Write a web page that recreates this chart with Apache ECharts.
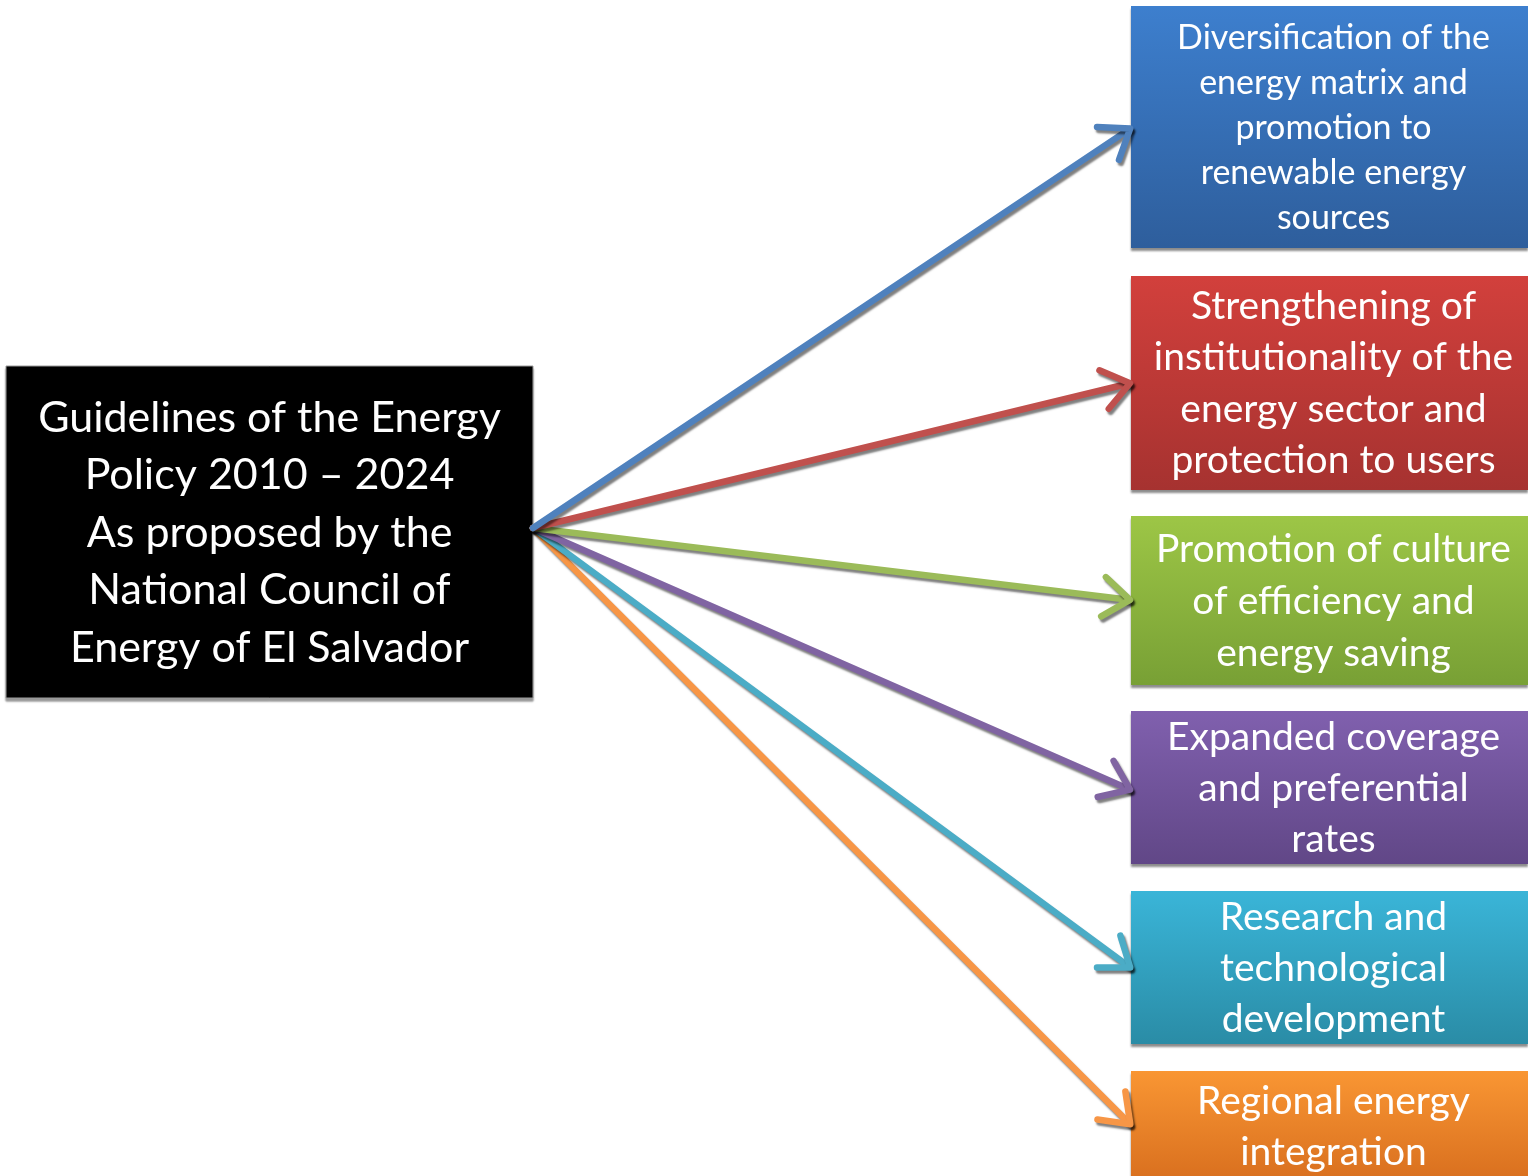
<!DOCTYPE html>
<html><head><meta charset="utf-8">
<script src="https://cdn.jsdelivr.net/npm/echarts@6/dist/echarts.min.js"></script>
<style>html,body{margin:0;padding:0;background:#fff}#c{width:1528px;height:1176px}</style>
</head><body><div id="c"></div>
<script>
// ---- content ----
const centerText = ["Guidelines of the Energy","Policy 2010 \u2013 2024","As proposed by the","National Council of","Energy of El Salvador"];
const boxTexts = [
  ["Diversification of the","energy matrix and","promotion to","renewable energy","sources"],
  ["Strengthening of","institutionality of the","energy sector and","protection to users"],
  ["Promotion of culture","of efficiency and","energy saving"],
  ["Expanded coverage","and preferential","rates"],
  ["Research and","technological","development"],
  ["Regional energy","integration"]
];
// ---- layout (page coordinates) ----
const centerBox = [6, 366, 533, 698];
const boxLeft = 1131, boxRight = 1528;
const boxTop = [6, 276, 516, 711, 891, 1071];
const boxBottom = [248, 490, 685, 864, 1044, 1190];
const boxFont = [34, 39, 39, 39, 39, 39];
const boxLineH = [45, 51.5, 52, 51, 51, 51];
const boxTextY0 = [38, 306, 549, 737, 917, 1101];
const arrowStart = [533, 528];
const arrowEndY = [128, 383, 600, 790, 968, 1125];
// ---- styles ----
const boxGrad = [["#3d7fce","#2e5e9c"],["#d2403c","#a63230"],["#9dc646","#78a035"],["#8060ae","#614787"],["#3ab5d8","#2a8ca6"],["#f99633","#d66c1d"]];
const arrowColors = ["#4f81bd","#c0504d","#9bbb59","#8064a2","#4bacc6","#f79646"];
const FONT = "Lato, 'Open Sans', sans-serif";

const chart = echarts.init(document.getElementById('c'));
const idx = boxTexts.map((_, i) => i);

chart.setOption({
  animation: false,
  grid: {left: 0, right: 0, top: 0, bottom: 0},
  xAxis: {type: 'value', min: 0, max: 1528, show: false},
  yAxis: {type: 'value', min: 0, max: 1176, inverse: true, show: false},
  series: [
    {
      type: 'custom', z: 1,
      data: [0],
      renderItem: function (params, api) {
        const p0 = api.coord([centerBox[0], centerBox[1]]);
        const p1 = api.coord([centerBox[2], centerBox[3]]);
        const lh = 57.5;
        const children = [{
          type: 'rect',
          shape: {x: p0[0], y: p0[1], width: p1[0]-p0[0], height: p1[1]-p0[1]},
          style: {fill: '#000', stroke: '#9a9a9a', lineWidth: 1, shadowColor: 'rgba(0,0,0,0.4)', shadowOffsetX: 0, shadowOffsetY: 3, shadowBlur: 2}
        }];
        centerText.forEach((t, k) => {
          const c = api.coord([(centerBox[0]+centerBox[2])/2, 418 + k*lh]);
          children.push({type: 'text', style: {text: t, x: c[0], y: c[1], fill: '#fff', font: '43px ' + FONT, align: 'center', verticalAlign: 'middle'}});
        });
        return {type: 'group', children: children};
      }
    },
    {
      type: 'custom', z: 2,
      data: idx,
      renderItem: function (params, api) {
        const i = api.value(0);
        const a = api.coord([boxLeft, boxTop[i]]);
        const b = api.coord([boxRight, boxBottom[i]]);
        const children = [{
          type: 'rect',
          shape: {x: a[0], y: a[1], width: b[0]-a[0], height: b[1]-a[1]},
          style: {
            fill: new echarts.graphic.LinearGradient(0,0,0,1,[{offset:0,color:boxGrad[i][0]},{offset:1,color:boxGrad[i][1]}]),
            shadowColor: 'rgba(0,0,0,0.45)', shadowOffsetX: 0, shadowOffsetY: 3, shadowBlur: 2
          }
        }];
        boxTexts[i].forEach((t, k) => {
          const c = api.coord([(boxLeft + boxRight)/2 + 4, boxTextY0[i] + k*boxLineH[i]]);
          children.push({type: 'text', style: {text: t, x: c[0], y: c[1], fill: '#fff', font: boxFont[i] + 'px ' + FONT, align: 'center', verticalAlign: 'middle'}});
        });
        return {type: 'group', children: children};
      }
    },
    {
      type: 'custom', z: 3,
      data: idx.slice().reverse(),
      renderItem: function (params, api) {
        const i = api.value(0);
        const s = api.coord(arrowStart);
        const e = api.coord([boxLeft, arrowEndY[i]]);
        const ang = Math.atan2(e[1]-s[1], e[0]-s[0]);
        const L = 34, w = 0.62;
        const w1 = [e[0] - L*Math.cos(ang - w), e[1] - L*Math.sin(ang - w)];
        const w2 = [e[0] - L*Math.cos(ang + w), e[1] - L*Math.sin(ang + w)];
        const st = {stroke: arrowColors[i], lineWidth: 6.5, lineCap: 'round', lineJoin: 'round', fill: null,
          shadowColor: 'rgba(0,0,0,0.5)', shadowOffsetX: 2, shadowOffsetY: 3, shadowBlur: 2};
        return {type: 'group', children: [
          {type: 'line', shape: {x1: s[0], y1: s[1], x2: e[0]-2*Math.cos(ang), y2: e[1]-2*Math.sin(ang)}, style: st},
          {type: 'polyline', shape: {points: [w1, [e[0]-1*Math.cos(ang), e[1]-1*Math.sin(ang)], w2]}, style: st}
        ]};
      }
    }
  ]
});
</script></body></html>
